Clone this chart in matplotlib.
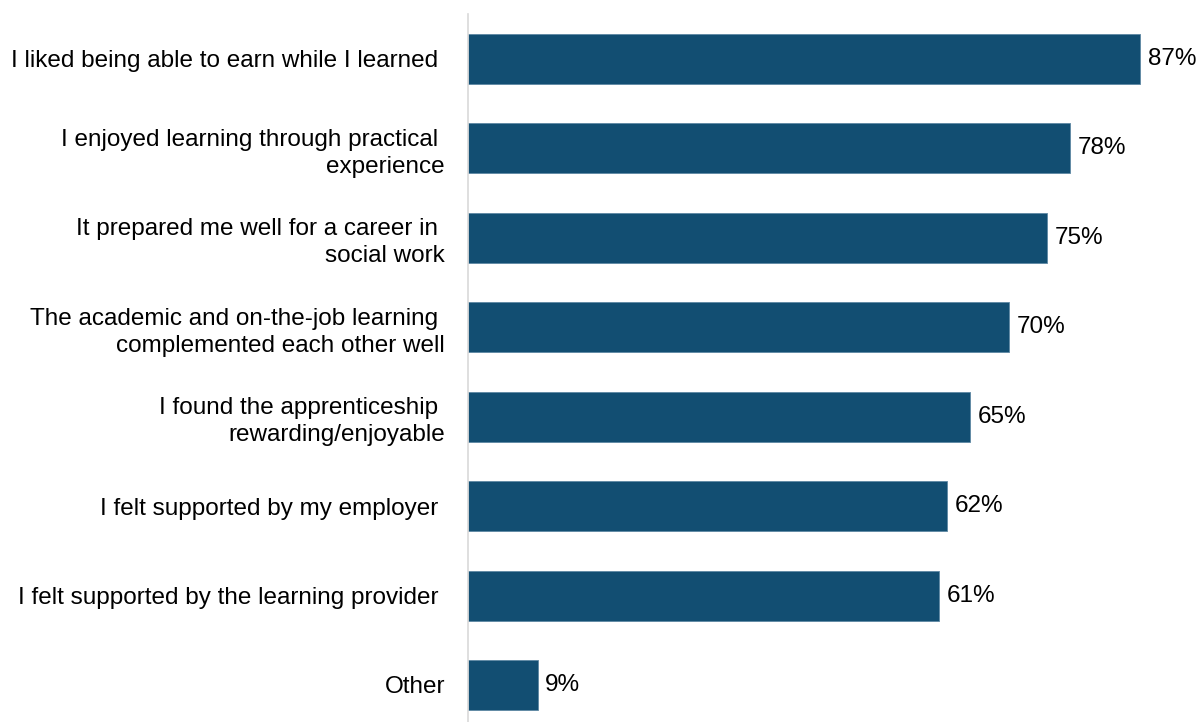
import matplotlib.pyplot as plt

plt.rcParams['font.family'] = ['Liberation Sans', 'DejaVu Sans']

# Survey responses: reasons for satisfaction with the apprenticeship
labels = [
    "I liked being able to earn while I learned ",
    "I enjoyed learning through practical \nexperience",
    "It prepared me well for a career in \nsocial work",
    "The academic and on-the-job learning \ncomplemented each other well",
    "I found the apprenticeship \nrewarding/enjoyable",
    "I felt supported by my employer ",
    "I felt supported by the learning provider ",
    "Other",
]
values = [87, 78, 75, 70, 65, 62, 61, 9]

bar_color = "#124E72"

fig = plt.figure(figsize=(12, 7.22), dpi=100)
ax = fig.add_axes([0.39, 0.0, 0.61, 1 - 14 / 722])

pos = list(range(len(values)))
ax.barh(pos, values, height=0.56, color=bar_color, edgecolor="#5d87a3", linewidth=0.6)

ax.set_xlim(0, 94.77)
ax.set_ylim(7.414, -0.503)

for p, v in zip(pos, values):
    ax.text(v + 1.0, p, f"{v}%", va="center", ha="left", fontsize=17.5, color="#000000")

ax.set_yticks(pos)
ax.set_yticklabels(labels, fontsize=17.5, linespacing=1.3)
ax.tick_params(axis="y", length=0, pad=16.5)
ax.set_xticks([])

for side in ["top", "right", "bottom"]:
    ax.spines[side].set_visible(False)
ax.spines["left"].set_color("#d9d9d9")
ax.spines["left"].set_linewidth(1.2)

fig.savefig("out.png", dpi=100)
